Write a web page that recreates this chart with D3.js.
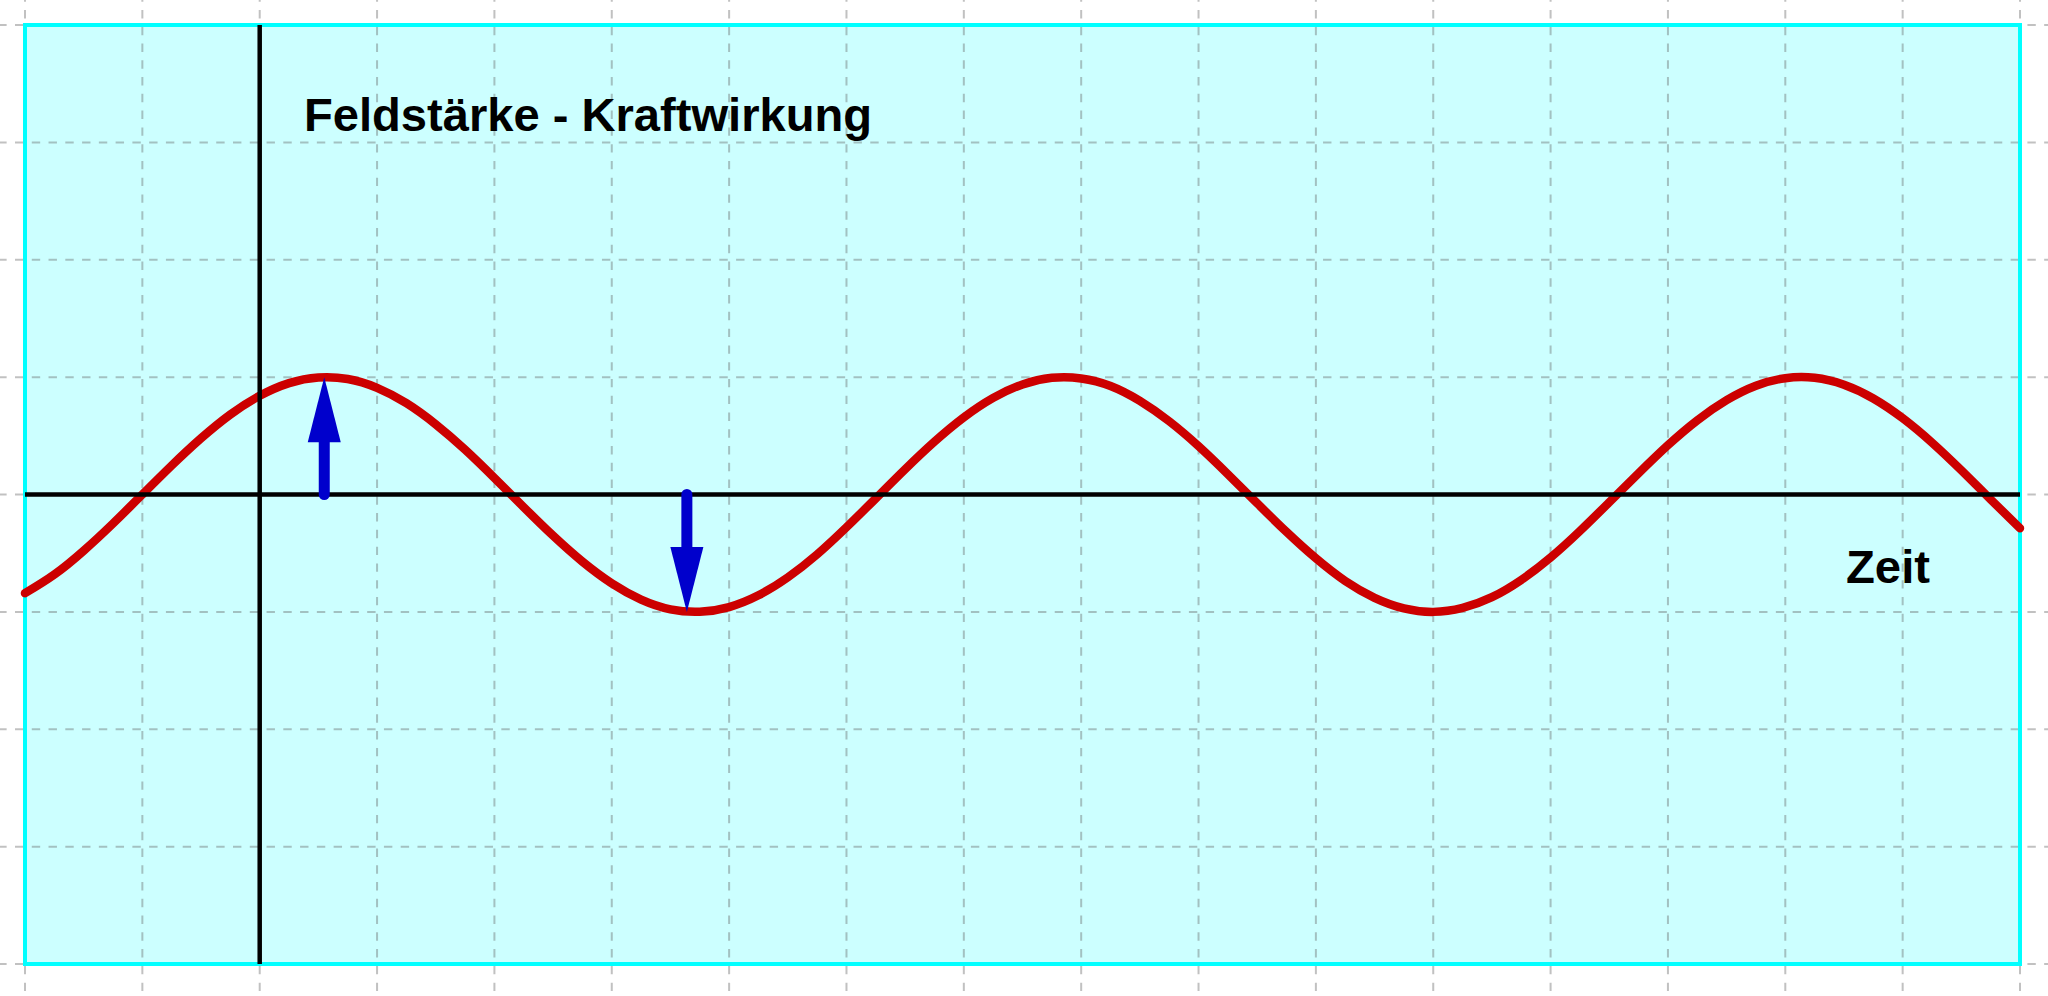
<!DOCTYPE html>
<html>
<head>
<meta charset="utf-8">
<script src="https://cdn.jsdelivr.net/npm/d3@7"></script>
<style>
  html, body { margin: 0; padding: 0; background: #ffffff; }
  svg { display: block; }
</style>
</head>
<body>
<script>
// ---- Data (grid units) ----
const curveX = [-2, -1.75, -1.5, -1.25, -1, -0.75, -0.5, -0.25, 0, 0.25, 0.5, 0.75, 1, 1.25, 1.5, 1.75,
  2, 2.25, 2.5, 2.75, 3, 3.25, 3.5, 3.75, 4, 4.25, 4.5, 4.75, 5, 5.25, 5.5, 5.75,
  6, 6.25, 6.5, 6.75, 7, 7.25, 7.5, 7.75, 8, 8.25, 8.5, 8.75, 9, 9.25, 9.5, 9.75,
  10, 10.25, 10.5, 10.75, 11, 11.25, 11.5, 11.75, 12, 12.25, 12.5, 12.75, 13, 13.25, 13.5, 13.75,
  14, 14.25, 14.5, 14.75, 15];
const curveY = [-0.841, -0.682, -0.479, -0.247, 0.000, 0.247, 0.479, 0.682, 0.841, 0.949, 0.997, 0.984,
  0.909, 0.778, 0.598, 0.382, 0.141, -0.108, -0.351, -0.572, -0.757, -0.895, -0.978, -0.999,
  -0.959, -0.859, -0.706, -0.510, -0.279, -0.033, 0.215, 0.450, 0.657, 0.823, 0.938, 0.994,
  0.989, 0.925, 0.798, 0.624, 0.412, 0.173, -0.075, -0.319, -0.544, -0.737, -0.880, -0.970,
  -1.000, -0.966, -0.875, -0.728, -0.537, -0.311, -0.066, 0.181, 0.420, 0.632, 0.804, 0.927,
  0.991, 0.994, 0.935, 0.818, 0.650, 0.442, 0.206, -0.042, -0.288];
const arrowX = [0.55, 3.64];
const arrowY = [1, -1];
const xGrid = [-2, -1, 0, 1, 2, 3, 4, 5, 6, 7, 8, 9, 10, 11, 12, 13, 14, 15];
const yGrid = [-4, -3, -2, -1, 0, 1, 2, 3, 4];
const titleText = "Feldstärke - Kraftwirkung";
const axisLabel = "Zeit";

// ---- Layout ----
const W = 2048, H = 996;
const x = d3.scaleLinear().domain([-2, 15]).range([25, 2020]);
const y = d3.scaleLinear().domain([-4, 4]).range([964, 25]);

const svg = d3.select("body").append("svg").attr("width", W).attr("height", H);
svg.append("rect").attr("width", W).attr("height", H).attr("fill", "#ffffff");

// plot area fill
svg.append("rect")
  .attr("x", x(-2)).attr("y", y(4))
  .attr("width", x(15) - x(-2)).attr("height", y(-4) - y(4))
  .attr("fill", "#ccffff");

// grid
const gridG = svg.append("g")
  .attr("stroke", "rgb(100,100,100)")
  .attr("stroke-opacity", 0.4)
  .attr("stroke-width", 2)
  .attr("stroke-dasharray", "8.4 8.37");
gridG.selectAll("line.v").data(xGrid).join("line").attr("class", "v")
  .attr("x1", d => x(d)).attr("x2", d => x(d))
  .attr("y1", -6.77).attr("y2", H + 10);
gridG.selectAll("line.h").data(yGrid).join("line").attr("class", "h")
  .attr("y1", d => y(d)).attr("y2", d => y(d))
  .attr("x1", -1.77).attr("x2", W + 10);

// border
svg.append("rect")
  .attr("x", x(-2)).attr("y", y(4))
  .attr("width", x(15) - x(-2)).attr("height", y(-4) - y(4))
  .attr("fill", "none").attr("stroke", "#00ffff").attr("stroke-width", 4);

// curve
const pts = curveX.map((v, i) => [v, curveY[i]]);
const line = d3.line().x(d => x(d[0])).y(d => y(d[1])).curve(d3.curveNatural);
svg.append("path").datum(pts)
  .attr("d", line)
  .attr("fill", "none")
  .attr("stroke", "#cc0000")
  .attr("stroke-width", 8.5)
  .attr("stroke-linecap", "round")
  .attr("stroke-linejoin", "round");

// axes
svg.append("line")
  .attr("x1", x(-2)).attr("x2", x(15)).attr("y1", y(0)).attr("y2", y(0))
  .attr("stroke", "#000").attr("stroke-width", 4.5);
svg.append("line")
  .attr("x1", x(0)).attr("x2", x(0)).attr("y1", y(4)).attr("y2", y(-4))
  .attr("stroke", "#000").attr("stroke-width", 4.5);

// arrows
const headLen = 65, headHalf = 16.5;
arrowX.forEach((ax, i) => {
  const px = x(ax), y0 = y(0), y1 = y(arrowY[i]);
  const dir = Math.sign(y1 - y0);
  const baseY = y1 - dir * headLen;
  svg.append("line")
    .attr("x1", px).attr("x2", px).attr("y1", y0).attr("y2", baseY + dir * 2)
    .attr("stroke", "#0000cc").attr("stroke-width", 11).attr("stroke-linecap", "round");
  svg.append("path")
    .attr("d", `M${px - headHalf},${baseY} L${px + headHalf},${baseY} L${px},${y1} Z`)
    .attr("fill", "#0000cc");
});

// texts
svg.append("text")
  .attr("x", 304).attr("y", 131)
  .attr("font-family", "'Liberation Sans', Arial, sans-serif")
  .attr("font-weight", "bold").attr("font-size", 46)
  .attr("textLength", 568).attr("lengthAdjust", "spacingAndGlyphs")
  .attr("fill", "#000").text(titleText);
svg.append("text")
  .attr("x", 1846).attr("y", 583)
  .attr("font-family", "'Liberation Sans', Arial, sans-serif")
  .attr("font-weight", "bold").attr("font-size", 46)
  .attr("textLength", 84).attr("lengthAdjust", "spacingAndGlyphs")
  .attr("fill", "#000").text(axisLabel);
</script>
</body>
</html>
